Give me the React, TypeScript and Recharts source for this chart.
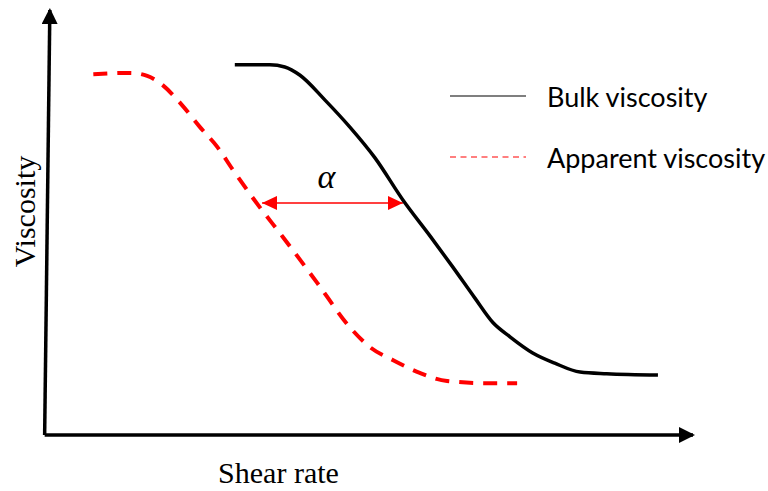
import { Legend, Line, LineChart, ReferenceLine, XAxis, YAxis } from 'recharts';

// schematic units: shear rate 0-100, viscosity 0-100
const BULK_X = [29.4, 34.8, 37.1, 39.4, 43.3, 47.1, 51.0, 55.3, 59.5, 63.0, 66.4, 69.2, 71.8, 75.3, 78.7, 82.6, 86.7, 94.6];
const BULK_Y = [87.1, 87.1, 86.6, 84.7, 78.8, 72.5, 65.2, 55.3, 46.8, 39.5, 32.2, 26.4, 23.1, 19.3, 16.9, 14.8, 14.4, 14.1];

const APPARENT_X = [7.6, 13.3, 15.9, 17.9, 21.0, 24.0, 26.7, 29.1, 33.0, 36.8, 42.1, 47.1, 50.2, 53.8, 57.9, 62.1, 68.3, 72.9];
const APPARENT_Y = [84.9, 85.2, 84.5, 82.8, 78.1, 72.5, 67.8, 62.4, 54.1, 46.6, 35.8, 25.4, 20.7, 17.6, 14.6, 12.7, 12.2, 12.2];

// shift between the two curves (alpha)
const SHIFT_Y = 54.6;
const SHIFT_FROM = 33.6;
const SHIFT_TO = 55.3;

const SERIES = [
  { name: 'Bulk viscosity', color: '#000', dash: undefined },
  { name: 'Apparent viscosity', color: '#ff0000', dash: '6 4.5' },
];

const zip = (xs: number[], ys: number[]) => xs.map((x, i) => ({ x, y: ys[i] }));
const bulkData = zip(BULK_X, BULK_Y);
const apparentData = zip(APPARENT_X, APPARENT_Y);

const serif = '"Liberation Serif", "Times New Roman", serif';
const sans = 'Lato, "Open Sans", sans-serif';

function LegendBox() {
  return (
    <div style={{ fontFamily: sans, fontSize: 27, color: '#000', textAlign: 'left' }}>
      {SERIES.map((s, i) => (
        <div
          key={s.name}
          style={{ display: 'flex', alignItems: 'center', height: 30, marginBottom: i === 0 ? 31 : 0 }}
        >
          <svg width={76} height={4} style={{ display: 'block' }}>
            <line x1={0} y1={2} x2={76} y2={2} stroke={s.color} strokeWidth={1.2} strokeDasharray={s.dash} />
          </svg>
          <span style={{ marginLeft: 21, whiteSpace: 'nowrap' }}>{s.name}</span>
        </div>
      ))}
    </div>
  );
}

const axisShape = (p: any) => (
  <line x1={p.x1} y1={p.y1} x2={p.x2} y2={p.y2} stroke="#000" strokeWidth={3.5} markerEnd="url(#axisHead)" />
);

const shiftShape = (p: any) => (
  <line
    x1={p.x1}
    y1={p.y1}
    x2={p.x2}
    y2={p.y2}
    stroke="#ff0000"
    strokeWidth={1.5}
    markerStart="url(#redHead)"
    markerEnd="url(#redHead)"
  />
);

export default function App() {
  return (
    <div style={{ position: 'absolute', left: 0, top: 0, background: '#fff' }}>
      <LineChart width={768} height={491} margin={{ top: 10, right: 75, bottom: 0, left: 0 }}>
        <defs>
          <marker id="axisHead" markerWidth={16} markerHeight={16} refX={14} refY={8} orient="auto" markerUnits="userSpaceOnUse">
            <path d="M0,0 L16,8 L0,16 z" fill="#000" />
          </marker>
          <marker id="redHead" markerWidth={15} markerHeight={14} refX={15} refY={7} orient="auto-start-reverse" markerUnits="userSpaceOnUse">
            <path d="M0,0 L15,7 L0,14 z" fill="#ff0000" />
          </marker>
        </defs>
        <XAxis
          type="number"
          dataKey="x"
          domain={[0, 100]}
          allowDataOverflow
          height={56}
          tick={false}
          tickLine={false}
          axisLine={false}
          label={{ value: 'Shear rate', position: 'center', dx: -90, dy: 9, fill: '#000', fontSize: 30, fontFamily: serif }}
        />
        <YAxis
          type="number"
          dataKey="y"
          domain={[0, 100]}
          allowDataOverflow
          width={44}
          tick={false}
          tickLine={false}
          axisLine={false}
          label={{ value: 'Viscosity', position: 'center', angle: -90, dx: 2, dy: -11, fill: '#000', fontSize: 30, fontFamily: serif }}
        />
        <ReferenceLine segment={[{ x: 0.1, y: 0 }, { x: 100, y: 0 }]} ifOverflow="visible" shape={axisShape} />
        <ReferenceLine segment={[{ x: 0.1, y: 0 }, { x: 0.9, y: 100 }]} ifOverflow="visible" shape={axisShape} />
        <ReferenceLine
          segment={[{ x: SHIFT_FROM, y: SHIFT_Y }, { x: SHIFT_TO, y: SHIFT_Y }]}
          ifOverflow="visible"
          shape={shiftShape}
          label={{ value: 'α', position: 'top', offset: 15, dx: -6, fill: '#000', fontSize: 34, fontStyle: 'italic', fontFamily: serif }}
        />
        <Line
          data={bulkData}
          dataKey="y"
          name="Bulk viscosity"
          type="monotone"
          stroke="#000"
          strokeWidth={3.5}
          dot={false}
          isAnimationActive={false}
        />
        <Line
          data={apparentData}
          dataKey="y"
          name="Apparent viscosity"
          type="monotone"
          stroke="#ff0000"
          strokeWidth={4}
          strokeDasharray="14 10"
          dot={false}
          isAnimationActive={false}
        />
        <Legend
          layout="horizontal"
          verticalAlign="middle"
          align="center"
          content={() => <LegendBox />}
          wrapperStyle={{ left: 450, top: 81, width: 318 }}
        />
      </LineChart>
    </div>
  );
}
